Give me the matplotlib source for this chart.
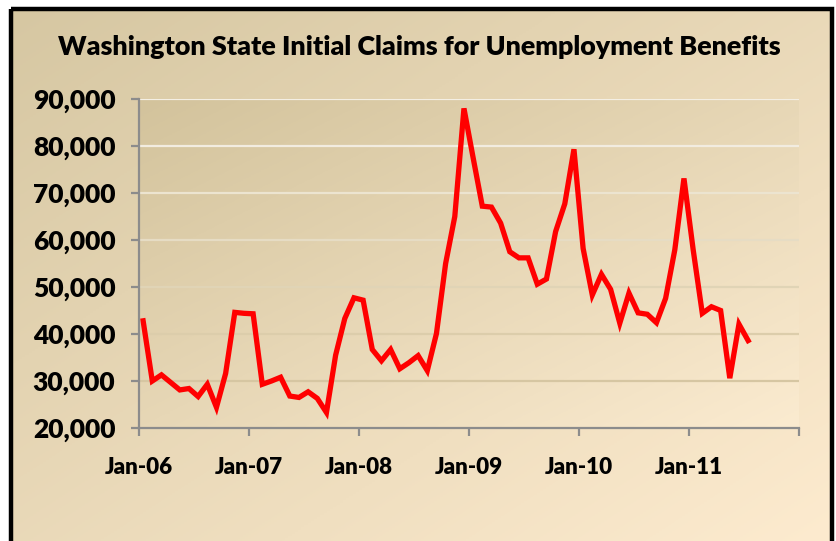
import numpy as np
import matplotlib
matplotlib.use('Agg')
import matplotlib.pyplot as plt
from matplotlib.colors import LinearSegmentedColormap
from matplotlib.patches import Rectangle

# Monthly initial claims, Jan-06 .. Jul-11
claims = [
    42800, 30000, 31300, 29700, 28100, 28400, 26700, 29300, 24400, 31600, 44600, 44400,
    44300, 29300, 30000, 30800, 26800, 26500, 27700, 26300, 23300, 35500, 43300, 47700,
    47200, 36700, 34300, 36700, 32600, 33900, 35400, 32200, 40100, 55000, 65000, 88000,
    77500, 67200, 67000, 63600, 57500, 56200, 56200, 50600, 51700, 61800, 67700, 79300,
    58200, 48300, 52700, 49500, 42300, 48700, 44500, 44200, 42400, 47600, 57900, 73100,
    58000, 44400, 45800, 45000, 30600, 42100, 38600,
]
year_labels = ['Jan-06', 'Jan-07', 'Jan-08', 'Jan-09', 'Jan-10', 'Jan-11', '']
y_ticks = [20000, 30000, 40000, 50000, 60000, 70000, 80000, 90000]
grid_colors = ['#d2c19c', '#d6c6a2', '#dccdab', '#e0d4b6', '#e6dcc4', '#ece4d0', '#f2ece0', '#f4efe4']

FONT = ['Lato', 'DejaVu Sans']
WEIGHT = 'heavy'


def gradient(c0, c1, n=256):
    # diagonal gradient, top-left -> bottom-right
    cmap = LinearSegmentedColormap.from_list('g', [c0, c1])
    xx, yy = np.meshgrid(np.linspace(0, 1, n), np.linspace(0, 1, n))
    return cmap((xx + yy) / 2)


def fit_width(texts, target_px, renderer):
    # scale font so the widest text is about target_px wide
    w = max(t.get_window_extent(renderer).width for t in texts)
    for t in texts:
        t.set_fontsize(t.get_fontsize() * target_px / w)


fig = plt.figure(figsize=(8.37, 5.41), dpi=100)
fig.patch.set_facecolor('white')

# chart area background with black frame
bg = fig.add_axes([0, 0, 1, 1], zorder=-5)
bg.set_axis_off()
bg.set_xlim(0, 837)
bg.set_ylim(541, 0)
bg.imshow(gradient('#d6c7a2', '#fdebcf'), extent=(11, 832, 541, 9), aspect='auto')
bg.add_patch(Rectangle((11, 9), 821, 540, fill=False, edgecolor='black', linewidth=3.2))

ax = fig.add_axes([139 / 837, 1 - 428 / 541, 660 / 837, 329 / 541])
ax.set_facecolor('none')
ax.imshow(gradient('#d3c39c', '#fbebd0'), extent=(0, 1, 0, 1), transform=ax.transAxes,
          aspect='auto', zorder=0)

months = np.arange(len(claims)) + 0.45
ax.plot(months, claims, color='#ff0000', linewidth=3.8, solid_joinstyle='miter', zorder=3)

ax.set_xlim(0, 72)
ax.set_ylim(20000, 90000)
ax.set_yticks(y_ticks)
ax.set_yticklabels(['{:,}'.format(v) for v in y_ticks])
ax.set_xticks(np.arange(0, 73, 12))
ax.set_xticklabels(year_labels)

for v, c in zip(y_ticks[1:], grid_colors[1:]):
    ax.axhline(v, color=c, linewidth=1.6, zorder=1)

for s in ['top', 'right']:
    ax.spines[s].set_visible(False)
for s in ['left', 'bottom']:
    ax.spines[s].set_color('#8c8c8c')
    ax.spines[s].set_linewidth(1.6)
    ax.spines[s].set_zorder(4)

ax.tick_params(axis='both', color='#8c8c8c', width=1.6, length=6, direction='out')
ax.tick_params(axis='y', pad=11)
ax.tick_params(axis='x', pad=15)
for lab in ax.get_yticklabels() + ax.get_xticklabels():
    lab.set_family(FONT)
    lab.set_fontweight(WEIGHT)
    lab.set_fontsize(15)

title = fig.text(419 / 837, 1 - 47 / 541, 'Washington State Initial Claims for Unemployment Benefits',
                 ha='center', va='center', fontsize=19, fontweight=WEIGHT, family=FONT)

renderer = fig.canvas.get_renderer()
fit_width([title], 724, renderer)
fit_width(ax.get_yticklabels(), 83, renderer)
fit_width([t for t in ax.get_xticklabels() if t.get_text()], 69, renderer)

fig.savefig('out.png', dpi=100)
